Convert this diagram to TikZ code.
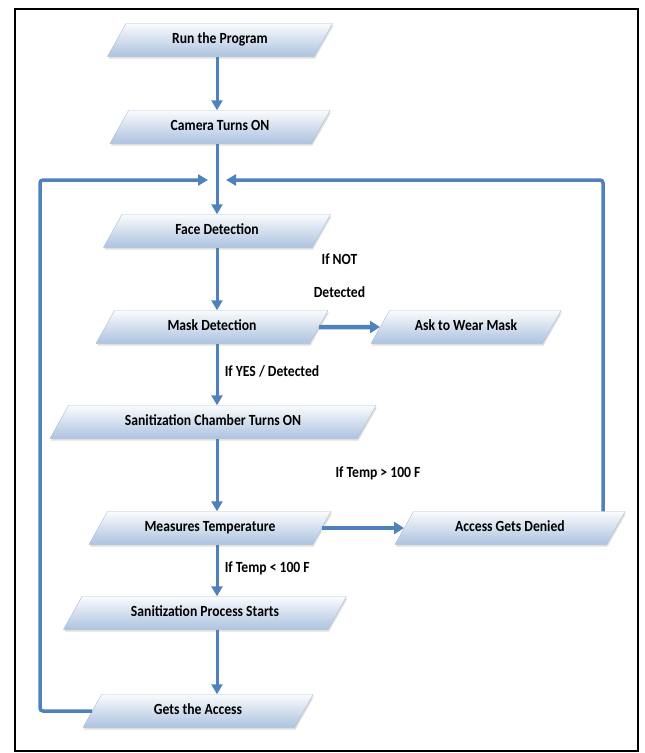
\documentclass[tikz,border=0pt]{standalone}
\usepackage{fontspec}
\setmainfont{Carlito}[FakeStretch=0.88]
\usepackage{tikz}
\usetikzlibrary{shapes.geometric, arrows.meta, shadows}

\definecolor{flowblue}{RGB}{79,129,189}
\definecolor{boxtop}{RGB}{250,251,253}
\definecolor{boxbottom}{RGB}{172,195,224}
\definecolor{boxedge}{RGB}{170,188,212}

\begin{document}
\begin{tikzpicture}[x=1pt, y=-1pt,
  every node/.style={font=\fontsize{15.5}{17}\selectfont\bfseries},
  iobox/.style={trapezium, trapezium left angle=40, trapezium right angle=140,
    trapezium stretches body, minimum height=33pt, inner sep=1pt,
    text height=10.5pt, text depth=3pt,
    draw=boxedge, top color=boxtop, bottom color=boxbottom,
    drop shadow={opacity=.25, shadow xshift=1pt, shadow yshift=-2pt}},
  flow/.style={draw=flowblue, line width=3pt, -{Triangle[width=11pt, length=10pt]}},
  branch/.style={flow, line width=4.5pt, -{Triangle[width=12pt, length=10pt]}},
  back/.style={flow, line width=3.5pt, rounded corners=3pt}]
  \useasboundingbox (0, 0) rectangle (645, 753);
  \draw [line width=2pt] (15, 9) rectangle (638, 751);
  \node [iobox, minimum width=225pt] (run) at (220, 40) {Run the Program};
  \node [iobox, minimum width=220pt] (cam) at (220, 127) {Camera Turns ON};
  \node [iobox, minimum width=227pt] (face) at (217, 231) {Face Detection};
  \node [iobox, minimum width=232pt] (mask) at (212, 327) {Mask Detection};
  \node [iobox, minimum width=190pt] (ask) at (466, 327) {Ask to Wear Mask};
  \node [iobox, minimum width=326pt] (chamber) at (213, 422) {Sanitization Chamber Turns ON};
  \node [iobox, minimum width=242pt] (meas) at (210, 528) {Measures Temperature};
  \node [iobox, minimum width=230pt] (denied) at (510, 528) {Access Gets Denied};
  \node [iobox, minimum width=283pt] (proc) at (205, 613) {Sanitization Process Starts};
  \node [iobox, minimum width=230pt] (gets) at (198, 711) {Gets the Access};
  \coordinate (col) at (217, 0);
  \coordinate (merge) at (217, 180);
  \coordinate (lturn) at (40, 180);
  \coordinate (rturn) at (603, 180);
  \draw [flow] (run.south -| col) -- (cam.north -| col);
  \draw [flow] (cam.south -| col) -- (face.north -| col);
  \draw [flow] (face.south -| col) -- (mask.north -| col);
  \draw [flow] (mask.south -| col) -- node [right=3pt, pos=.45] {If YES / Detected} (chamber.north -| col);
  \draw [flow] (chamber.south -| col) -- (meas.north -| col);
  \draw [flow] (meas.south -| col) -- node [right=3pt, pos=.45] {If Temp < 100 F} (proc.north -| col);
  \draw [flow] (proc.south -| col) -- (gets.north -| col);
  \draw [branch] (mask.east) -- node [above=24pt, xshift=-10pt, align=center] {If NOT\\[16pt]Detected} (ask.west);
  \draw [branch] (meas.east) -- node [above=42pt, xshift=15pt] {If Temp > 100 F} (denied.west);
  \draw [back] (gets.west) -| (lturn) -- ([xshift=-9pt]merge);
  \draw [back] (denied.north -| rturn) -- (rturn) -- ([xshift=9pt]merge);
\end{tikzpicture}
\end{document}
